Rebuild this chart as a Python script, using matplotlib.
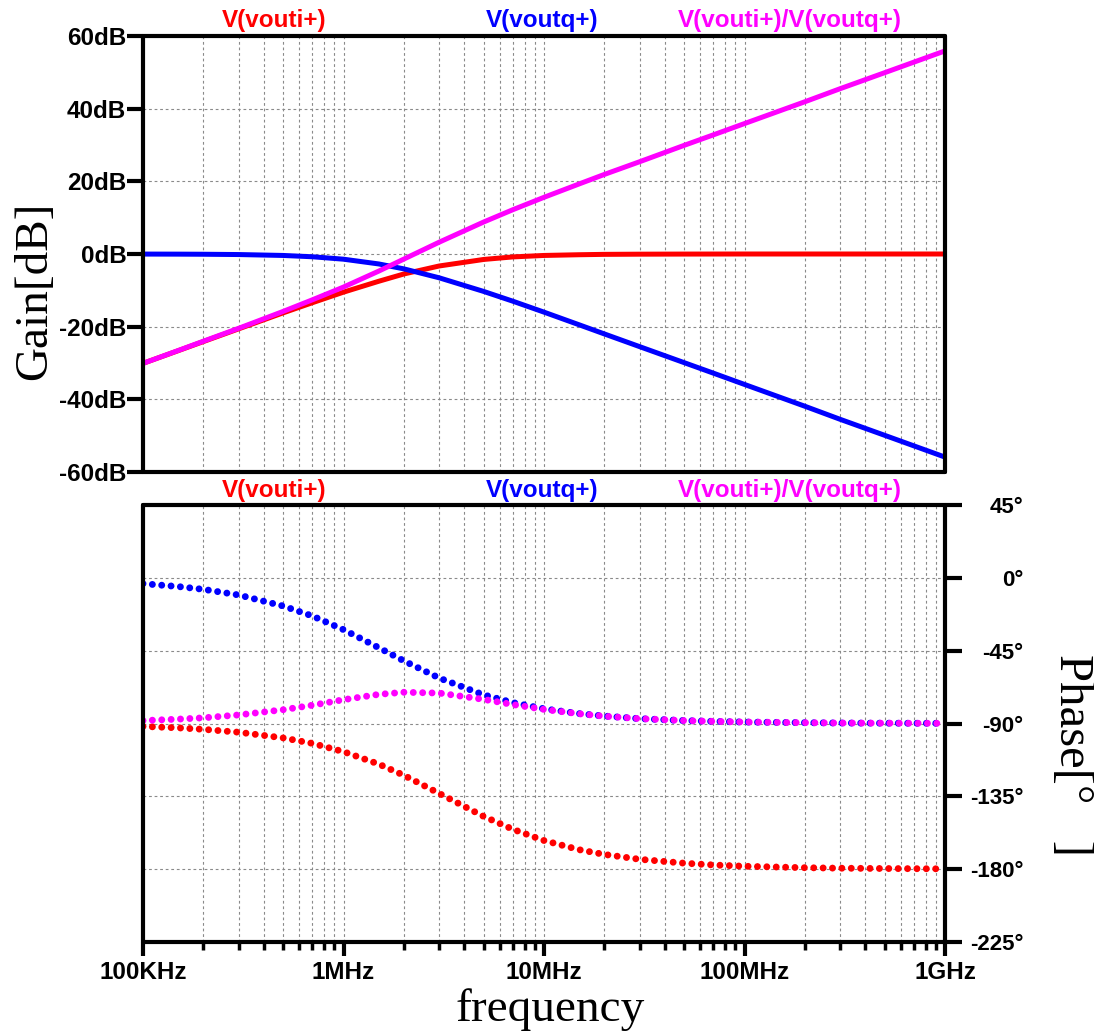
import matplotlib
matplotlib.use("Agg")
import matplotlib.pyplot as plt
from matplotlib.ticker import FixedLocator, LogLocator, NullFormatter

# frequency points (Hz)
freq = [1e5, 1.5e5, 2e5, 3e5, 5e5, 7e5, 1e6, 1.5e6, 2e6, 3e6, 5e6, 7e6,
        1e7, 1.5e7, 2e7, 3e7, 5e7, 7e7, 1e8, 2e8, 3e8, 5e8, 1e9]

# gain in dB
gain_i = [-30.1, -26.6, -24.1, -20.6, -16.2, -13.4, -10.5, -7.5, -5.5, -3.3, -1.5, -0.8,
          -0.4, -0.2, -0.1, -0.05, -0.02, -0.01, 0.0, 0.0, 0.0, 0.0, 0.0]
gain_q = [-0.02, -0.04, -0.07, -0.15, -0.4, -0.76, -1.43, -2.74, -4.09, -6.55, -10.3, -13.0,
          -16.0, -19.5, -22.0, -25.5, -29.9, -32.8, -35.9, -41.9, -45.5, -49.9, -55.9]
gain_iq = [-30.1, -26.55, -24.0, -20.45, -15.8, -12.6, -9.1, -4.7, -1.4, 3.25, 8.8, 12.2,
           15.6, 19.3, 21.9, 25.4, 29.9, 32.8, 35.9, 41.9, 45.5, 49.9, 55.9]

# phase in degrees
phase_i = [-91.8, -92.7, -93.6, -95.4, -98.9, -102.3, -107.4, -115.1, -122.0, -133.2, -147.4, -155.4,
           -162.3, -168.0, -170.9, -173.9, -176.3, -177.4, -178.2, -179.1, -179.4, -179.6, -179.8]
phase_q = [-3.6, -5.4, -7.1, -10.6, -17.4, -23.6, -32.0, -43.2, -51.3, -61.9, -72.3, -77.1,
           -80.9, -83.9, -85.4, -87.0, -88.2, -88.7, -89.1, -89.5, -89.7, -89.8, -89.9]
phase_iq = [-88.2, -87.3, -86.5, -84.7, -81.5, -78.7, -75.3, -72.0, -70.7, -71.2, -75.1, -78.3,
            -81.3, -84.0, -85.5, -87.0, -88.2, -88.7, -89.1, -89.5, -89.7, -89.8, -89.9]

series_names = ["V(vouti+)", "V(voutq+)", "V(vouti+)/V(voutq+)"]
series_colors = ["#ff0000", "#0000ff", "#ff00ff"]
name_xpos = [274, 542, 790]  # pixel centres of the trace names

x_ticks = [1e5, 1e6, 1e7, 1e8, 1e9]
x_labels = ["100KHz", "1MHz", "10MHz", "100MHz", "1GHz"]
gain_ticks = [-60, -40, -20, 0, 20, 40, 60]
gain_labels = ["-60dB", "-40dB", "-20dB", "0dB", "20dB", "40dB", "60dB"]
phase_ticks = [-225, -180, -135, -90, -45, 0, 45]
phase_labels = ["-225°", "-180°", "-135°", "-90°", "-45°", "0°", "45°"]

W, H = 1094, 1035
fig = plt.figure(figsize=(W / 100, H / 100), dpi=100)
ax1 = fig.add_axes([143 / W, 1 - 472 / H, 802 / W, 436 / H])
ax2 = fig.add_axes([143 / W, 1 - 942 / H, 802 / W, 437 / H])

tick_font = dict(family="Liberation Sans", weight="bold")
grid_kw = dict(color="#8a8a8a", linestyle=(0, (2.5, 2.5)), linewidth=0.8)

for ax in (ax1, ax2):
    ax.set_xscale("log")
    ax.set_xlim(1e5, 1e9)
    ax.xaxis.set_major_locator(FixedLocator(x_ticks))
    ax.xaxis.set_minor_locator(LogLocator(base=10, subs=range(2, 10)))
    ax.xaxis.set_minor_formatter(NullFormatter())
    ax.grid(True, which="both", axis="x", **grid_kw)
    ax.grid(True, which="major", axis="y", **grid_kw)
    for sp in ax.spines.values():
        sp.set_linewidth(3)
        sp.set_capstyle("round")
        sp.set_joinstyle("round")

# gain panel
ax1.plot(freq, gain_i, color=series_colors[0], lw=3.6, solid_capstyle="round")
ax1.plot(freq, gain_q, color=series_colors[1], lw=3.6, solid_capstyle="round")
ax1.plot(freq, gain_iq, color=series_colors[2], lw=3.6, solid_capstyle="round")
ax1.set_ylim(-60, 60)
ax1.set_yticks(gain_ticks)
ax1.set_yticklabels(gain_labels, fontsize=17.5, **tick_font)
ax1.tick_params(axis="y", direction="out", length=11.5, width=3, pad=0.5)
ax1.tick_params(axis="x", which="both", bottom=False, labelbottom=False)

# phase panel (dotted traces)
dots = (0, (0.001, 1.35))
for ys, c in zip([phase_i, phase_q, phase_iq], series_colors):
    ax2.plot(freq, ys, color=c, lw=5, linestyle=dots, dash_capstyle="round")
ax2.set_ylim(-225, 45)
ax2.yaxis.tick_right()
ax2.set_yticks(phase_ticks)
ax2.set_yticklabels(phase_labels, fontsize=16, **tick_font)
ax2.tick_params(axis="y", direction="out", length=12.5, width=3, pad=44)
for lab in ax2.get_yticklabels():
    lab.set_horizontalalignment("right")
ax2.set_xticklabels(x_labels, fontsize=17.5, **tick_font)
ax2.tick_params(axis="x", which="major", direction="out", length=10, width=3, pad=4)
ax2.tick_params(axis="x", which="minor", direction="out", length=6, width=2.5)

# trace names above both panels
for name, c, xp in zip(series_names, series_colors, name_xpos):
    fig.text(xp / W, 1 - 21 / H, name, color=c, fontsize=17.5, ha="center", va="center", **tick_font)
    fig.text(xp / W, 1 - 490 / H, name, color=c, fontsize=17.5, ha="center", va="center", **tick_font)

# axis titles
fig.text(35 / W, 1 - 291 / H, "Gain[dB]", family="Liberation Serif", fontsize=34,
         rotation=90, ha="center", va="center")
fig.text(1072 / W, 1 - 755 / H, "Phase[°   ]", family="Liberation Serif", fontsize=35,
         rotation=-90, ha="center", va="center")
fig.text(550 / W, 1 - 1010 / H, "frequency", family="Liberation Serif", fontsize=34,
         ha="center", va="center")

fig.savefig("out.png", dpi=100)
